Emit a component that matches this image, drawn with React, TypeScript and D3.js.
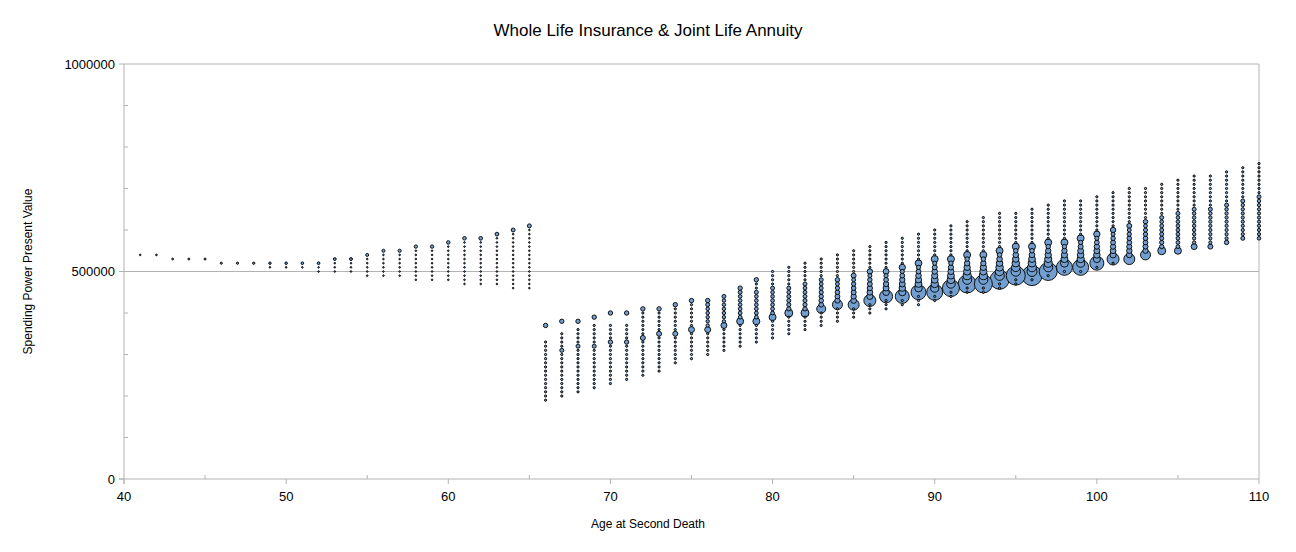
import React from 'react';
import * as d3 from 'd3';

// Ages 41..65: vertical spread of present values (thousands)
const leftAges = d3.range(41, 66);
const leftHi = [540, 540, 530, 530, 530, 520, 520, 520, 520, 520, 520, 520, 530, 530, 540, 550, 550, 560, 560, 570, 580, 580, 590, 600, 610];
const leftLo = [540, 540, 530, 530, 530, 520, 520, 520, 510, 510, 510, 500, 500, 500, 490, 490, 490, 480, 480, 480, 470, 470, 470, 460, 460];

// Ages 66..110
const rightAges = d3.range(66, 111);
const rightTop = [370, 380, 380, 390, 400, 400, 410, 410, 420, 430, 430, 440, 460, 480, 500, 510, 520, 530, 540, 550, 560, 570, 580, 590, 600, 610, 620, 630, 640, 640, 650, 660, 670, 670, 680, 690, 700, 700, 710, 720, 730, 730, 740, 750, 760];
const rightGapHi = [330, 350, 360, 370, 370, 370, 400, 400, 0, 0, 0, 0, 0, 0, 0, 0, 0, 0, 0, 0, 0, 0, 0, 0, 0, 0, 0, 0, 0, 0, 0, 0, 0, 0, 0, 0, 0, 0, 0, 0, 0, 0, 0, 0, 0];
const rightLo = [190, 200, 210, 220, 230, 240, 250, 260, 280, 290, 300, 310, 320, 330, 340, 350, 360, 370, 380, 390, 400, 410, 420, 420, 430, 440, 450, 450, 460, 470, 480, 490, 500, 500, 510, 520, 530, 540, 550, 550, 560, 560, 570, 580, 580];
const rightPeak = [0, 310, 320, 320, 330, 330, 340, 350, 350, 360, 360, 370, 380, 380, 390, 400, 400, 410, 420, 420, 430, 440, 440, 450, 450, 460, 470, 470, 480, 490, 490, 500, 510, 510, 520, 530, 530, 540, 550, 550, 560, 560, 570, 580, 580];
const rightPeakR = [0, 2, 2, 2, 2.2, 2.2, 2.5, 2.5, 2.5, 3, 3, 3, 3.5, 3.5, 3.5, 4, 4, 4.5, 5, 5.5, 6, 6.5, 7, 7.5, 8, 8.5, 9, 9, 9.5, 9.5, 10, 9, 8, 8, 7, 6, 5.5, 5, 4, 3.5, 3, 2.5, 2.2, 2, 1.8];
const rightSec = [0, 0, 0, 0, 0, 0, 0, 0, 0, 0, 420, 440, 450, 450, 460, 460, 470, 480, 480, 490, 500, 500, 510, 520, 530, 530, 540, 540, 550, 560, 560, 570, 570, 580, 590, 600, 610, 620, 630, 640, 650, 650, 660, 670, 680];

const yTicks = [0, 500000, 1000000];
const xTicks = [40, 50, 60, 70, 80, 90, 100, 110];

type Pt = { age: number; v: number; r: number };

function buildPoints(): Pt[] {
  const pts: Pt[] = [];
  leftAges.forEach((age, i) => {
    for (let v = leftLo[i]; v <= leftHi[i]; v += 10) {
      const r = v === leftHi[i] ? 0.8 + (age - 41) * 0.05 : 0.8;
      pts.push({ age, v: v * 1000, r });
    }
  });
  rightAges.forEach((age, i) => {
    const top = rightTop[i], lo = rightLo[i], gap = rightGapHi[i];
    const peak = rightPeak[i], pr = rightPeakR[i], sec = rightSec[i];
    for (let v = lo; v <= top; v += 10) {
      if (gap && v > gap && v < top) continue;
      let r = 1.1;
      if (v === top && age < 80) r = 2.2;
      if (v === peak) r = pr;
      else if (sec && v === sec) r = Math.max(2, Math.min(3.5, pr * 0.45));
      else if (sec && v > peak && v < sec) {
        const t = (v - peak) / (sec - peak);
        r = Math.max(1.6, pr * 0.55 * (1 - t) + 1.8 * t);
      }
      pts.push({ age, v: v * 1000, r });
    }
  });
  return pts.sort((a, b) => b.r - a.r);
}

const App: React.FC = () => {
  const W = 1296, H = 552;
  const left = 124, right = 1259, top = 64, bottom = 479;
  const x = d3.scaleLinear().domain([40, 110]).range([left, right]);
  const y = d3.scaleLinear().domain([0, 1000000]).range([bottom, top]);
  const pts = buildPoints();
  const font = '"Liberation Sans", Arial, sans-serif';
  const grey = '#b3b3b3';

  return (
    <svg width={W} height={H} style={{ position: 'absolute', left: 0, top: 0 }} fontFamily={font}>
      <rect width={W} height={H} fill="#fff" />
      <text x={648} y={36} textAnchor="middle" fontSize={17}>Whole Life Insurance &amp; Joint Life Annuity</text>
      {yTicks.filter(t => t > 0).map(t => (
        <line key={t} x1={left} x2={right} y1={y(t)} y2={y(t)} stroke={grey} />
      ))}
      <line x1={right} x2={right} y1={top} y2={bottom} stroke={grey} />
      <line x1={left} x2={left} y1={top} y2={bottom + 5} stroke={grey} />
      <line x1={left - 5} x2={right} y1={bottom} y2={bottom} stroke={grey} />
      {yTicks.map(t => (
        <g key={t}>
          <line x1={left - 5} x2={left} y1={y(t)} y2={y(t)} stroke={grey} />
          <text x={left - 9} y={y(t) + 4.5} textAnchor="end" fontSize={13}>{t}</text>
        </g>
      ))}
      {d3.range(100000, 1000000, 100000).filter(t => t !== 500000).map(t => (
        <line key={t} x1={left} x2={left + 4} y1={y(t)} y2={y(t)} stroke={grey} />
      ))}
      {xTicks.map(t => (
        <g key={t}>
          <line x1={x(t)} x2={x(t)} y1={bottom} y2={bottom + 5} stroke={grey} />
          <text x={x(t)} y={bottom + 22} textAnchor="middle" fontSize={13}>{t}</text>
        </g>
      ))}
      {d3.range(45, 110, 10).map(t => (
        <line key={t} x1={x(t)} x2={x(t)} y1={bottom} y2={bottom - 4} stroke={grey} />
      ))}
      {pts.map((p, i) => (
        <circle key={i} cx={x(p.age)} cy={y(p.v)} r={p.r} fill="#729fcf"
          stroke="#000" strokeWidth={p.r < 1.5 ? 1 : 0.9} />
      ))}
      <text x={648} y={528} textAnchor="middle" fontSize={12}>Age at Second Death</text>
      <text transform={`translate(32,${(top + bottom) / 2}) rotate(-90)`} textAnchor="middle" fontSize={12}>Spending Power Present Value</text>
    </svg>
  );
};

export default App;
